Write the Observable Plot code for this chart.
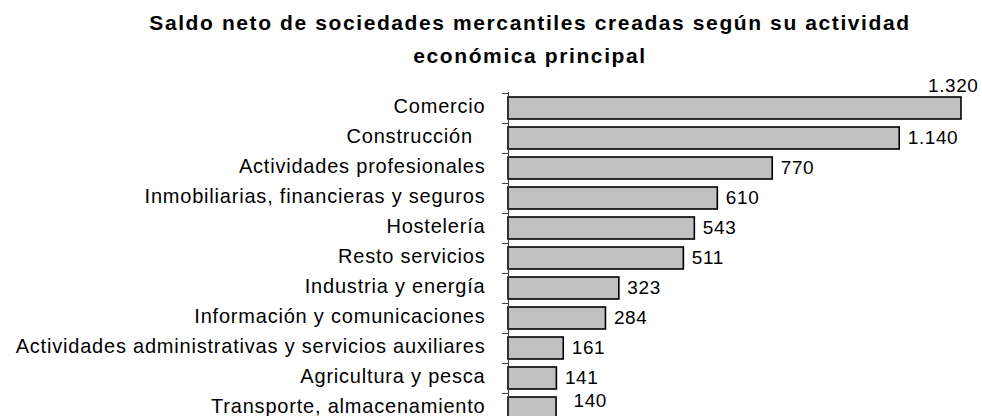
<!DOCTYPE html>
<html>
<head>
<meta charset="utf-8">
<script src="https://cdn.jsdelivr.net/npm/d3@7"></script>
<script src="https://cdn.jsdelivr.net/npm/@observablehq/plot@0.6"></script>
<style>
  html, body { margin: 0; padding: 0; background: #fff; overflow: hidden; width: 982px; height: 416px; }
  #title { width: 982px; height: 75px; box-sizing: border-box; padding-top: 6px; padding-left: 78px;
    font-family: "Liberation Sans", Arial, sans-serif; font-weight: bold; font-size: 21px; line-height: 33px;
    text-align: center; color: #000; letter-spacing: 1.6px; }
  #chart svg { display: block; }
  #chart svg g[aria-label="y-axis tick label"] text { letter-spacing: 0.8px; }
  #chart svg g[aria-label="text"] text { letter-spacing: 0.6px; }
</style>
</head>
<body>
<div id="title">Saldo neto de sociedades mercantiles creadas según su actividad<br>económica principal</div>
<div id="chart"></div>
<script>
const categories = [
  "Comercio",
  "Construcción\u00A0\u00A0",
  "Actividades profesionales",
  "Inmobiliarias, financieras y seguros",
  "Hostelería",
  "Resto servicios",
  "Industria y energía",
  "Información y comunicaciones",
  "Actividades administrativas y servicios auxiliares",
  "Agricultura y pesca",
  "Transporte, almacenamiento"
];
const values = [1320, 1140, 770, 610, 543, 511, 323, 284, 161, 141, 140];

const data = categories.map((c, i) => ({category: c, value: values[i], i}));
const fmt = d3.formatLocale({decimal: ",", thousands: ".", grouping: [3]}).format(",d");
const last = categories.length - 1;

const step = 30.1;
const marginTop = 17;
const marginBottom = 10;
const height = marginTop + categories.length * step + marginBottom;

const chart = Plot.plot({
  width: 982,
  height,
  marginLeft: 508,
  marginRight: 21,
  marginTop,
  marginBottom,
  style: {fontFamily: "'Liberation Sans', Arial, sans-serif", color: "#000"},
  x: {domain: [0, 1320], axis: null},
  y: {domain: categories, paddingInner: 0.27, paddingOuter: 0.135, label: null},
  marks: [
    Plot.axisY({tickSize: 0, tickPadding: 23, fontSize: 20, dy: -2, label: null, fill: "#000"}),
    Plot.axisY({tickSize: 6, text: null, dy: -step / 2, stroke: "#333", label: null}),
    Plot.barX(data, {x: "value", y: "category", fill: "#c0c0c0", stroke: "#000", strokeWidth: 1.6}),
    Plot.ruleX([0], {stroke: "#333", strokeWidth: 1}),
    Plot.text(data.filter(d => d.i > 0 && d.i < last), {x: "value", y: "category", text: d => fmt(d.value), textAnchor: "start", dx: 8, dy: -1, fontSize: 19, fill: "#000"}),
    Plot.text(data.filter(d => d.i === last), {x: "value", y: "category", text: d => fmt(d.value), textAnchor: "start", dx: 17, dy: -8, fontSize: 19, fill: "#000"}),
    Plot.text(data.filter(d => d.i === 0), {x: "value", y: "category", text: d => fmt(d.value), textAnchor: "end", dx: 17, dy: -23, fontSize: 19, fill: "#000"})
  ]
});
document.getElementById("chart").appendChild(chart);
</script>
</body>
</html>
